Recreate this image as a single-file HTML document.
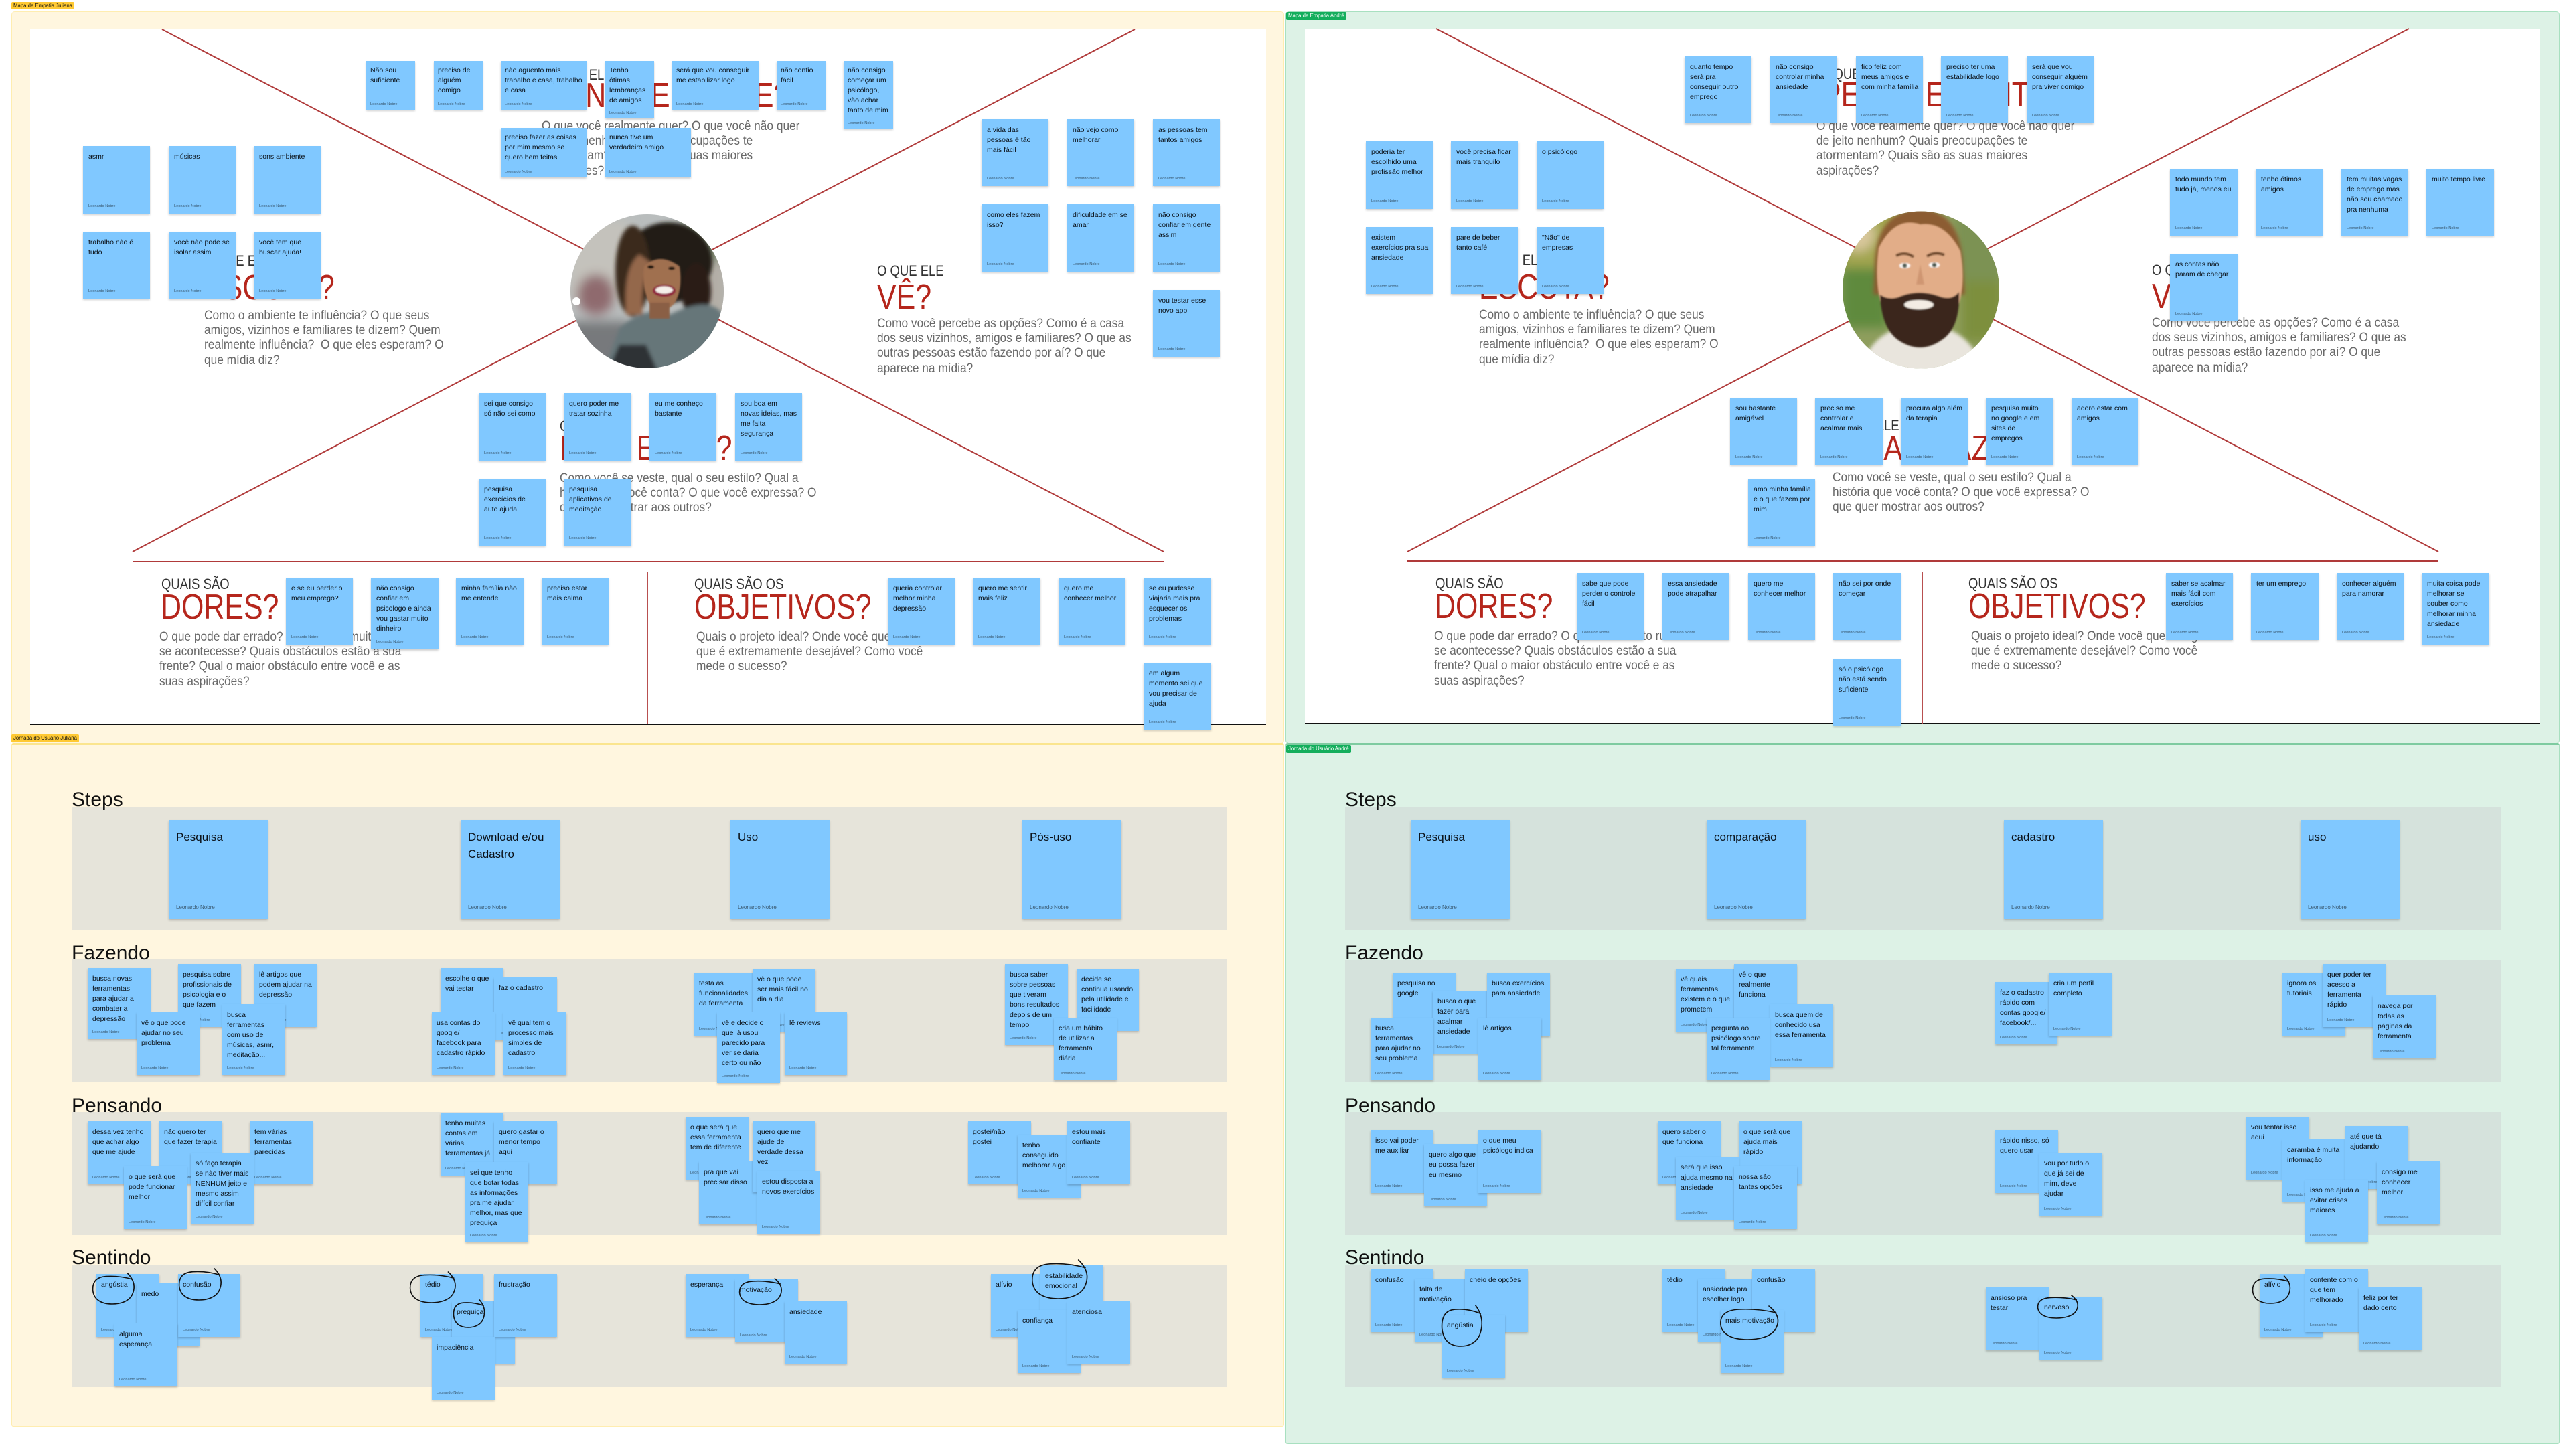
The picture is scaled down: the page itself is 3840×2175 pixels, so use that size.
<!DOCTYPE html>
<html lang="pt"><head><meta charset="utf-8"><title>Mapa de Empatia e Jornada do Usuário</title>
<style>
html,body{margin:0;padding:0;background:#fff}
body{position:relative;width:3840px;height:2175px;overflow:hidden;font-family:"Liberation Sans",sans-serif}
.f,.w,.l,.s,.h1,.h2,.b,.r,.t{position:absolute;box-sizing:border-box}
.w{background:#fff;border-bottom:2px solid #111}
.l{font-size:7.8px;line-height:11px;padding:0 3px;border-radius:2px;white-space:nowrap}
.h1,.h2,.b{transform-origin:0 0;white-space:nowrap}
.h1{font-size:22px;line-height:22px;color:#333;transform:scaleX(.84)}
.h2{font-size:52px;line-height:52px;color:#b5261c;transform:scaleX(.825)}
.b{font-size:19px;line-height:22.4px;color:#696969;transform:scaleX(.91);margin-top:1.5px}
.r{background:#e6e4da}
.g{background:#d5e2dc}
.t{font-size:30px;line-height:34px;color:#111;white-space:nowrap}
.s{background:#80c8ff;box-shadow:0 2px 3px rgba(0,0,0,.2);font-size:10.5px;line-height:15px;color:#0a1118;padding:9px 8px;white-space:nowrap}
.s i{position:absolute;left:8px;bottom:7px;font-style:normal;font-size:5.6px;line-height:8px;color:#3a5a72}
.n{padding:6.5px 6px}.n i{left:6px;bottom:4px}
.j{padding:9px 7px}.j i{left:7px;bottom:6px}
.k{font-size:17px;line-height:25px;padding:13px 11px}.k i{left:11px;bottom:13px;font-size:8px}
svg{position:absolute;left:0;top:0}
</style></head><body>

<div class="f" style="left:17px;top:17px;width:1901px;height:1094px;background:#fff6df;border:1px solid #ffedb0;border-radius:5px"></div>
<div class="f" style="left:1920px;top:17px;width:1903px;height:1094px;background:#ddf2e6;border:1px solid #a8e0c0;border-radius:5px"></div>
<div class="f" style="left:17px;top:1110px;width:1901px;height:1021px;background:#fff6df;border:1px solid #ffedb0;border-top:3px solid #fbe58e;border-radius:3px"></div>
<div class="f" style="left:1920px;top:1110px;width:1903px;height:1047px;background:#ddf2e6;border:1px solid #a8e0c0;border-top:3px solid #7ecba0;border-bottom:2px solid #a8e0c0;border-radius:3px"></div>

<div class="l" style="left:17px;top:3px;background:#ffc933;color:#111">Mapa de Empatia Juliana</div>
<div class="l" style="left:1921px;top:18px;background:#14ae5c;color:#fff;line-height:12px">Mapa de Empatia André</div>
<div class="l" style="left:17px;top:1097px;background:#ffc933;color:#111;line-height:12px">Jornada do Usuário Juliana</div>
<div class="l" style="left:1921px;top:1113px;background:#14ae5c;color:#fff;line-height:12px">Jornada do Usuário André</div>

<div class="w" style="left:45px;top:44px;width:1846px;height:1039px"></div>
<div class="w" style="left:1949px;top:43px;width:1845px;height:1039px"></div>

<svg width="3840" height="2175" viewBox="0 0 3840 2175">
<defs>
<clipPath id="cj"><ellipse cx="966.5" cy="435" rx="114.5" ry="115"/></clipPath>
<clipPath id="ca"><ellipse cx="2869" cy="433" rx="117" ry="117.5"/></clipPath>
<filter id="b8" x="-20%" y="-20%" width="140%" height="140%"><feGaussianBlur stdDeviation="8"/></filter>
<filter id="b3" x="-20%" y="-20%" width="140%" height="140%"><feGaussianBlur stdDeviation="3"/></filter>
<filter id="b1" x="-20%" y="-20%" width="140%" height="140%"><feGaussianBlur stdDeviation="1"/></filter>
</defs>
<g stroke="#b03a3a" stroke-width="2" fill="none">
<path d="M242 44L1738 824M1695 44L198 824M198 839H1738"/>
<path d="M967 855V1082" stroke="#b85050"/>
<path d="M2145 43L3642 824M3598 43L2102 824M2102 838H3642"/>
<path d="M2871 855V1081" stroke="#b85050"/>
</g>

<g clip-path="url(#cj)">
<rect x="850" y="318" width="234" height="234" fill="#b9bdbd"/>
<g filter="url(#b8)">
<rect x="850" y="330" width="90" height="120" fill="#c4c2bc"/>
<ellipse cx="890" cy="440" rx="28" ry="30" fill="#8f6a6e"/>
<rect x="850" y="480" width="90" height="70" fill="#77797c"/>
<rect x="1020" y="320" width="64" height="70" fill="#7f8d75"/>
<rect x="1050" y="390" width="34" height="90" fill="#b3aea6"/>
</g>
<g filter="url(#b3)">
<ellipse cx="998" cy="392" rx="66" ry="60" fill="#241a13"/>
<ellipse cx="945" cy="405" rx="26" ry="68" fill="#3a2a1e"/>
<ellipse cx="1040" cy="435" rx="22" ry="42" fill="#2a1d15"/>
<path d="M900 560L925 490Q965 455 1000 470Q1060 440 1080 470L1084 560Z" fill="#667679"/>
<path d="M905 560L925 515L965 515L985 560Z" fill="#2f3336"/>
<path d="M955 380Q930 400 935 470L960 470Q955 420 975 395Z" fill="#94684c"/>
</g>
<g filter="url(#b1)">
<path d="M962 398Q985 376 1015 398Q1020 432 1008 452Q990 474 970 454Q958 428 962 398Z" fill="#a0704f"/>
<rect x="970" y="452" width="30" height="24" fill="#8a5e44"/>
<ellipse cx="992" cy="434" rx="17" ry="9" fill="#8e1f3a"/>
<ellipse cx="992" cy="433" rx="13" ry="5.5" fill="#f5efe9"/>
<ellipse cx="972" cy="399" rx="5" ry="2.5" fill="#1c1410"/>
<ellipse cx="1003" cy="401" rx="5" ry="2.5" fill="#1c1410"/>
</g>
<circle cx="861" cy="450" r="6" fill="#fff"/>
</g>

<g clip-path="url(#ca)">
<rect x="2750" y="314" width="238" height="238" fill="#8f9e5e"/>
<g filter="url(#b8)">
<rect x="2750" y="314" width="90" height="120" fill="#a2a54f"/>
<rect x="2750" y="400" width="70" height="90" fill="#5f8a3e"/>
<rect x="2920" y="314" width="70" height="110" fill="#7c9252"/>
<rect x="2930" y="420" width="60" height="90" fill="#7d8f3c"/>
<ellipse cx="2775" cy="350" rx="26" ry="26" fill="#d8c79b"/>
</g>
<g filter="url(#b3)">
<path d="M2775 560Q2790 505 2835 490L2905 490Q2950 505 2965 560Z" fill="#e9e5dd"/>
<path d="M2800 400Q2800 315 2868 312Q2930 315 2932 400L2935 440L2798 440Z" fill="#8c5c30"/>
</g>
<g filter="url(#b1)">
<path d="M2806 370Q2830 322 2868 335Q2905 330 2928 375Q2938 430 2920 470Q2890 505 2866 508Q2840 505 2815 470Q2798 430 2806 370Z" fill="#e2ad88"/>
<path d="M2808 440Q2822 450 2840 442Q2866 432 2895 442Q2915 450 2926 436Q2928 490 2900 508Q2868 530 2835 508Q2810 490 2808 440Z" fill="#3a261c"/>
<ellipse cx="2866" cy="455" rx="22" ry="7" fill="#f3ece4"/>
<ellipse cx="2845" cy="397" rx="8" ry="4" fill="#fff"/>
<ellipse cx="2889" cy="396" rx="8" ry="4" fill="#fff"/>
<circle cx="2845" cy="397" r="3.5" fill="#4d5a50"/>
<circle cx="2889" cy="396" r="3.5" fill="#4d5a50"/>
<path d="M2832 382Q2846 375 2858 384M2878 383Q2890 375 2904 381" stroke="#6a4526" stroke-width="4" fill="none"/>
<path d="M2868 395L2862 425L2874 425Z" fill="#cf9672"/>
</g>
</g>
</svg>

<!-- Textos mapa Juliana -->
<div class="h1" style="left:305px;top:379px">O QUE ELE</div>
<div class="h2" style="left:305px;top:404px">ESCUTA?</div>
<div class="b" style="left:305px;top:459px">Como o ambiente te influência? O que seus<br>amigos, vizinhos e familiares te dizem? Quem<br>realmente influência?&nbsp; O que eles esperam? O<br>que mídia diz?</div>
<div class="h1" style="left:1310px;top:394px">O QUE ELE</div>
<div class="h2" style="left:1310px;top:418px">VÊ?</div>
<div class="b" style="left:1310px;top:471px">Como você percebe as opções? Como é a casa<br>dos seus vizinhos, amigos e familiares? O que as<br>outras pessoas estão fazendo por aí? O que<br>aparece na mídia?</div>
<div class="h1" style="left:815px;top:101px">O QUE ELE</div>
<div class="h2" style="left:817px;top:117px">PENSA E SENTE?</div>
<div class="b" style="left:809px;top:176px">O que você realmente quer? O que você não quer<br>de jeito nenhum? Quais preocupações te<br>atormentam? Quais são as suas maiores<br>aspirações?</div>
<div class="h1" style="left:836px;top:626px">O QUE ELE</div>
<div class="h2" style="left:836px;top:644px">FALA E FAZ?</div>
<div class="b" style="left:836px;top:702px">Como você se veste, qual o seu estilo? Qual a<br>história que você conta? O que você expressa? O<br>que quer mostrar aos outros?</div>
<div class="h1" style="left:241px;top:862px">QUAIS SÃO</div>
<div class="h2" style="left:240px;top:881px">DORES?</div>
<div class="b" style="left:238px;top:939px">O que pode dar errado? O que seria muito ruim<br>se acontecesse? Quais obstáculos estão a sua<br>frente? Qual o maior obstáculo entre você e as<br>suas aspirações?</div>
<div class="h1" style="left:1037px;top:862px">QUAIS SÃO OS</div>
<div class="h2" style="left:1037px;top:881px">OBJETIVOS?</div>
<div class="b" style="left:1040px;top:939px">Quais o projeto ideal? Onde você quer chegar? O<br>que é extremamente desejável? Como você<br>mede o sucesso?</div>

<!-- Textos mapa André -->
<div class="h1" style="left:2209px;top:378px">O QUE ELE</div>
<div class="h2" style="left:2209px;top:403px">ESCUTA?</div>
<div class="b" style="left:2209px;top:458px">Como o ambiente te influência? O que seus<br>amigos, vizinhos e familiares te dizem? Quem<br>realmente influência?&nbsp; O que eles esperam? O<br>que mídia diz?</div>
<div class="h1" style="left:3214px;top:393px">O QUE ELE</div>
<div class="h2" style="left:3214px;top:417px">VÊ?</div>
<div class="b" style="left:3214px;top:470px">Como você percebe as opções? Como é a casa<br>dos seus vizinhos, amigos e familiares? O que as<br>outras pessoas estão fazendo por aí? O que<br>aparece na mídia?</div>
<div class="h1" style="left:2719px;top:100px">O QUE ELE</div>
<div class="h2" style="left:2721px;top:116px">PENSA E SENTE?</div>
<div class="b" style="left:2713px;top:176px">O que você realmente quer? O que você não quer<br>de jeito nenhum? Quais preocupações te<br>atormentam? Quais são as suas maiores<br>aspirações?</div>
<div class="h1" style="left:2737px;top:625px">O QUE ELE</div>
<div class="h2" style="left:2737px;top:644px">FALA E FAZ?</div>
<div class="b" style="left:2737px;top:701px">Como você se veste, qual o seu estilo? Qual a<br>história que você conta? O que você expressa? O<br>que quer mostrar aos outros?</div>
<div class="h1" style="left:2144px;top:861px">QUAIS SÃO</div>
<div class="h2" style="left:2143px;top:880px">DORES?</div>
<div class="b" style="left:2142px;top:938px">O que pode dar errado? O que seria muito ruim<br>se acontecesse? Quais obstáculos estão a sua<br>frente? Qual o maior obstáculo entre você e as<br>suas aspirações?</div>
<div class="h1" style="left:2940px;top:861px">QUAIS SÃO OS</div>
<div class="h2" style="left:2940px;top:880px">OBJETIVOS?</div>
<div class="b" style="left:2944px;top:938px">Quais o projeto ideal? Onde você quer chegar? O<br>que é extremamente desejável? Como você<br>mede o sucesso?</div>

<!-- Notas mapa Juliana -->
<div class="s n" style="left:547px;top:91px;width:73px;height:73px">Não sou<br>suficiente<i>Leonardo Nobre</i></div>
<div class="s n" style="left:648px;top:91px;width:73px;height:73px">preciso de<br>alguém<br>comigo<i>Leonardo Nobre</i></div>
<div class="s n" style="left:748px;top:91px;width:128px;height:73px">não aguento mais<br>trabalho e casa, trabalho<br>e casa<i>Leonardo Nobre</i></div>
<div class="s n" style="left:904px;top:91px;width:73px;height:86px">Tenho<br>ótimas<br>lembranças<br>de amigos<i>Leonardo Nobre</i></div>
<div class="s n" style="left:748px;top:191px;width:128px;height:74px">preciso fazer as coisas<br>por mim mesmo se<br>quero bem feitas<i>Leonardo Nobre</i></div>
<div class="s n" style="left:904px;top:191px;width:128px;height:74px">nunca tive um<br>verdadeiro amigo<i>Leonardo Nobre</i></div>
<div class="s n" style="left:1004px;top:91px;width:129px;height:73px">será que vou conseguir<br>me estabilizar logo<i>Leonardo Nobre</i></div>
<div class="s n" style="left:1160px;top:91px;width:73px;height:73px">não confio<br>fácil<i>Leonardo Nobre</i></div>
<div class="s n" style="left:1260px;top:91px;width:74px;height:101px">não consigo<br>começar um<br>psicólogo,<br>vão achar<br>tanto de mim<i>Leonardo Nobre</i></div>

<div class="s" style="left:124px;top:218px;width:100px;height:101px">asmr<i>Leonardo Nobre</i></div>
<div class="s" style="left:252px;top:218px;width:100px;height:101px">músicas<i>Leonardo Nobre</i></div>
<div class="s" style="left:379px;top:218px;width:100px;height:101px">sons ambiente<i>Leonardo Nobre</i></div>
<div class="s" style="left:124px;top:346px;width:100px;height:100px">trabalho não é<br>tudo<i>Leonardo Nobre</i></div>
<div class="s" style="left:252px;top:346px;width:100px;height:100px">você não pode se<br>isolar assim<i>Leonardo Nobre</i></div>
<div class="s" style="left:379px;top:346px;width:100px;height:100px">você tem que<br>buscar ajuda!<i>Leonardo Nobre</i></div>

<div class="s" style="left:1466px;top:178px;width:100px;height:100px">a vida das<br>pessoas é tão<br>mais fácil<i>Leonardo Nobre</i></div>
<div class="s" style="left:1594px;top:178px;width:100px;height:100px">não vejo como<br>melhorar<i>Leonardo Nobre</i></div>
<div class="s" style="left:1722px;top:178px;width:100px;height:100px">as pessoas tem<br>tantos amigos<i>Leonardo Nobre</i></div>
<div class="s" style="left:1466px;top:305px;width:100px;height:101px">como eles fazem<br>isso?<i>Leonardo Nobre</i></div>
<div class="s" style="left:1594px;top:305px;width:100px;height:101px">dificuldade em se<br>amar<i>Leonardo Nobre</i></div>
<div class="s" style="left:1722px;top:305px;width:100px;height:101px">não consigo<br>confiar em gente<br>assim<i>Leonardo Nobre</i></div>
<div class="s" style="left:1722px;top:433px;width:100px;height:100px">vou testar esse<br>novo app<i>Leonardo Nobre</i></div>

<div class="s" style="left:715px;top:587px;width:100px;height:101px">sei que consigo<br>só não sei como<i>Leonardo Nobre</i></div>
<div class="s" style="left:842px;top:587px;width:101px;height:101px">quero poder me<br>tratar sozinha<i>Leonardo Nobre</i></div>
<div class="s" style="left:970px;top:587px;width:100px;height:101px">eu me conheço<br>bastante<i>Leonardo Nobre</i></div>
<div class="s" style="left:1098px;top:587px;width:100px;height:101px">sou boa em<br>novas ideias, mas<br>me falta<br>segurança<i>Leonardo Nobre</i></div>
<div class="s" style="left:715px;top:715px;width:100px;height:100px">pesquisa<br>exercícios de<br>auto ajuda<i>Leonardo Nobre</i></div>
<div class="s" style="left:842px;top:715px;width:101px;height:100px">pesquisa<br>aplicativos de<br>meditação<i>Leonardo Nobre</i></div>

<div class="s" style="left:427px;top:863px;width:100px;height:100px">e se eu perder o<br>meu emprego?<i>Leonardo Nobre</i></div>
<div class="s" style="left:554px;top:863px;width:101px;height:107px">não consigo<br>confiar em<br>psicologo e ainda<br>vou gastar muito<br>dinheiro<i>Leonardo Nobre</i></div>
<div class="s" style="left:681px;top:863px;width:101px;height:100px">minha família não<br>me entende<i>Leonardo Nobre</i></div>
<div class="s" style="left:809px;top:863px;width:100px;height:100px">preciso estar<br>mais calma<i>Leonardo Nobre</i></div>
<div class="s" style="left:1326px;top:863px;width:100px;height:100px">queria controlar<br>melhor minha<br>depressão<i>Leonardo Nobre</i></div>
<div class="s" style="left:1453px;top:863px;width:101px;height:100px">quero me sentir<br>mais feliz<i>Leonardo Nobre</i></div>
<div class="s" style="left:1581px;top:863px;width:100px;height:100px">quero me<br>conhecer melhor<i>Leonardo Nobre</i></div>
<div class="s" style="left:1708px;top:863px;width:101px;height:100px">se eu pudesse<br>viajaria mais pra<br>esquecer os<br>problemas<i>Leonardo Nobre</i></div>
<div class="s" style="left:1708px;top:990px;width:101px;height:100px">em algum<br>momento sei que<br>vou precisar de<br>ajuda<i>Leonardo Nobre</i></div>

<!-- Notas mapa André -->
<div class="s" style="left:2516px;top:84px;width:100px;height:100px">quanto tempo<br>será pra<br>conseguir outro<br>emprego<i>Leonardo Nobre</i></div>
<div class="s" style="left:2644px;top:84px;width:100px;height:100px">não consigo<br>controlar minha<br>ansiedade<i>Leonardo Nobre</i></div>
<div class="s" style="left:2772px;top:84px;width:100px;height:100px">fico feliz com<br>meus amigos e<br>com minha família<i>Leonardo Nobre</i></div>
<div class="s" style="left:2899px;top:84px;width:100px;height:100px">preciso ter uma<br>estabilidade logo<i>Leonardo Nobre</i></div>
<div class="s" style="left:3027px;top:84px;width:100px;height:100px">será que vou<br>conseguir alguém<br>pra viver comigo<i>Leonardo Nobre</i></div>
<div class="s" style="left:2040px;top:211px;width:100px;height:101px">poderia ter<br>escolhido uma<br>profissão melhor<i>Leonardo Nobre</i></div>
<div class="s" style="left:2167px;top:211px;width:101px;height:101px">você precisa ficar<br>mais tranquilo<i>Leonardo Nobre</i></div>
<div class="s" style="left:2295px;top:211px;width:100px;height:101px">o psicólogo<i>Leonardo Nobre</i></div>
<div class="s" style="left:2040px;top:339px;width:100px;height:100px">existem<br>exercícios pra sua<br>ansiedade<i>Leonardo Nobre</i></div>
<div class="s" style="left:2167px;top:339px;width:101px;height:100px">pare de beber<br>tanto café<i>Leonardo Nobre</i></div>
<div class="s" style="left:2295px;top:339px;width:100px;height:100px">"Não" de<br>empresas<i>Leonardo Nobre</i></div>
<div class="s" style="left:3241px;top:252px;width:101px;height:100px">todo mundo tem<br>tudo já, menos eu<i>Leonardo Nobre</i></div>
<div class="s" style="left:3369px;top:252px;width:100px;height:100px">tenho ótimos<br>amigos<i>Leonardo Nobre</i></div>
<div class="s" style="left:3497px;top:252px;width:100px;height:100px">tem muitas vagas<br>de emprego mas<br>não sou chamado<br>pra nenhuma<i>Leonardo Nobre</i></div>
<div class="s" style="left:3624px;top:252px;width:101px;height:100px">muito tempo livre<i>Leonardo Nobre</i></div>
<div class="s" style="left:3241px;top:379px;width:101px;height:101px">as contas não<br>param de chegar<i>Leonardo Nobre</i></div>
<div class="s" style="left:2584px;top:594px;width:100px;height:100px">sou bastante<br>amigável<i>Leonardo Nobre</i></div>
<div class="s" style="left:2711px;top:594px;width:101px;height:100px">preciso me<br>controlar e<br>acalmar mais<i>Leonardo Nobre</i></div>
<div class="s" style="left:2839px;top:594px;width:100px;height:100px">procura algo além<br>da terapia<i>Leonardo Nobre</i></div>
<div class="s" style="left:2966px;top:594px;width:101px;height:100px">pesquisa muito<br>no google e em<br>sites de<br>empregos<i>Leonardo Nobre</i></div>
<div class="s" style="left:3094px;top:594px;width:100px;height:100px">adoro estar com<br>amigos<i>Leonardo Nobre</i></div>
<div class="s" style="left:2611px;top:715px;width:100px;height:100px">amo minha família<br>e o que fazem por<br>mim<i>Leonardo Nobre</i></div>
<div class="s" style="left:2355px;top:856px;width:100px;height:100px">sabe que pode<br>perder o controle<br>fácil<i>Leonardo Nobre</i></div>
<div class="s" style="left:2483px;top:856px;width:100px;height:100px">essa ansiedade<br>pode atrapalhar<i>Leonardo Nobre</i></div>
<div class="s" style="left:2611px;top:856px;width:100px;height:100px">quero me<br>conhecer melhor<i>Leonardo Nobre</i></div>
<div class="s" style="left:2738px;top:856px;width:101px;height:100px">não sei por onde<br>começar<i>Leonardo Nobre</i></div>
<div class="s" style="left:2738px;top:984px;width:101px;height:100px">só o psicólogo<br>não está sendo<br>suficiente<i>Leonardo Nobre</i></div>
<div class="s" style="left:3235px;top:856px;width:100px;height:100px">saber se acalmar<br>mais fácil com<br>exercícios<i>Leonardo Nobre</i></div>
<div class="s" style="left:3362px;top:856px;width:101px;height:100px">ter um emprego<i>Leonardo Nobre</i></div>
<div class="s" style="left:3490px;top:856px;width:100px;height:100px">conhecer alguém<br>para namorar<i>Leonardo Nobre</i></div>
<div class="s" style="left:3617px;top:856px;width:101px;height:107px">muita coisa pode<br>melhorar se<br>souber como<br>melhorar minha<br>ansiedade<i>Leonardo Nobre</i></div>

<!-- Jornada Juliana -->
<div class="r" style="left:107px;top:1206px;width:1725px;height:183px"></div>
<div class="r" style="left:107px;top:1433px;width:1725px;height:184px"></div>
<div class="r" style="left:107px;top:1661px;width:1725px;height:184px"></div>
<div class="r" style="left:107px;top:1889px;width:1725px;height:183px"></div>
<div class="t" style="left:107px;top:1178px">Steps</div>
<div class="t" style="left:107px;top:1407px">Fazendo</div>
<div class="t" style="left:107px;top:1635px">Pensando</div>
<div class="t" style="left:107px;top:1862px">Sentindo</div>

<div class="s k" style="left:252px;top:1225px;width:148px;height:148px">Pesquisa<i>Leonardo Nobre</i></div>
<div class="s k" style="left:688px;top:1225px;width:148px;height:148px">Download e/ou<br>Cadastro<i>Leonardo Nobre</i></div>
<div class="s k" style="left:1091px;top:1225px;width:148px;height:148px">Uso<i>Leonardo Nobre</i></div>
<div class="s k" style="left:1527px;top:1225px;width:148px;height:148px">Pós-uso<i>Leonardo Nobre</i></div>

<div class="s j" style="left:131px;top:1446px;width:94px;height:106px">busca novas<br>ferramentas<br>para ajudar a<br>combater a<br>depressão<i>Leonardo Nobre</i></div>
<div class="s j" style="left:266px;top:1440px;width:94px;height:94px">pesquisa sobre<br>profissionais de<br>psicologia e o<br>que fazem<i>Leonardo Nobre</i></div>
<div class="s j" style="left:380px;top:1440px;width:93px;height:94px">lê artigos que<br>podem ajudar na<br>depressão<i>Leonardo Nobre</i></div>
<div class="s j" style="left:204px;top:1512px;width:94px;height:94px">vê o que pode<br>ajudar no seu<br>problema<i>Leonardo Nobre</i></div>
<div class="s j" style="left:332px;top:1500px;width:94px;height:106px">busca<br>ferramentas<br>com uso de<br>músicas, asmr,<br>meditação...<i>Leonardo Nobre</i></div>
<div class="s j" style="left:658px;top:1446px;width:94px;height:94px">escolhe o que<br>vai testar<i>Leonardo Nobre</i></div>
<div class="s j" style="left:738px;top:1460px;width:94px;height:94px">faz o cadastro<i>Leonardo Nobre</i></div>
<div class="s j" style="left:645px;top:1512px;width:94px;height:94px">usa contas do<br>google/<br>facebook para<br>cadastro rápido<i>Leonardo Nobre</i></div>
<div class="s j" style="left:752px;top:1512px;width:94px;height:94px">vê qual tem o<br>processo mais<br>simples de<br>cadastro<i>Leonardo Nobre</i></div>
<div class="s j" style="left:1037px;top:1453px;width:94px;height:94px">testa as<br>funcionalidades<br>da ferramenta<i>Leonardo Nobre</i></div>
<div class="s j" style="left:1124px;top:1447px;width:94px;height:94px">vê o que pode<br>ser mais fácil no<br>dia a dia<i>Leonardo Nobre</i></div>
<div class="s j" style="left:1071px;top:1512px;width:94px;height:106px">vê e decide o<br>que já usou<br>parecido para<br>ver se daria<br>certo ou não<i>Leonardo Nobre</i></div>
<div class="s j" style="left:1172px;top:1512px;width:93px;height:94px">lê reviews<i>Leonardo Nobre</i></div>
<div class="s j" style="left:1501px;top:1440px;width:94px;height:121px">busca saber<br>sobre pessoas<br>que tiveram<br>bons resultados<br>depois de um<br>tempo<i>Leonardo Nobre</i></div>
<div class="s j" style="left:1608px;top:1447px;width:93px;height:93px">decide se<br>continua usando<br>pela utilidade e<br>facilidade<i>Leonardo Nobre</i></div>
<div class="s j" style="left:1574px;top:1520px;width:94px;height:94px">cria um hábito<br>de utilizar a<br>ferramenta<br>diária<i>Leonardo Nobre</i></div>

<div class="s j" style="left:131px;top:1675px;width:94px;height:94px">dessa vez tenho<br>que achar algo<br>que me ajude<i>Leonardo Nobre</i></div>
<div class="s j" style="left:238px;top:1675px;width:94px;height:94px">não quero ter<br>que fazer terapia<i>Leonardo Nobre</i></div>
<div class="s j" style="left:373px;top:1675px;width:94px;height:94px">tem várias<br>ferramentas<br>parecidas<i>Leonardo Nobre</i></div>
<div class="s j" style="left:185px;top:1742px;width:94px;height:94px">o que será que<br>pode funcionar<br>melhor<i>Leonardo Nobre</i></div>
<div class="s j" style="left:285px;top:1722px;width:94px;height:106px">só faço terapia<br>se não tiver mais<br>NENHUM jeito e<br>mesmo assim<br>difícil confiar<i>Leonardo Nobre</i></div>
<div class="s j" style="left:658px;top:1662px;width:94px;height:94px">tenho muitas<br>contas em<br>várias<br>ferramentas já<i>Leonardo Nobre</i></div>
<div class="s j" style="left:738px;top:1675px;width:94px;height:94px">quero gastar o<br>menor tempo<br>aqui<i>Leonardo Nobre</i></div>
<div class="s j" style="left:695px;top:1736px;width:94px;height:120px">sei que tenho<br>que botar todas<br>as informações<br>pra me ajudar<br>melhor, mas que<br>preguiça<i>Leonardo Nobre</i></div>
<div class="s j" style="left:1024px;top:1668px;width:94px;height:94px">o que será que<br>essa ferramenta<br>tem de diferente<i>Leonardo Nobre</i></div>
<div class="s j" style="left:1044px;top:1735px;width:94px;height:94px">pra que vai<br>precisar disso<i>Leonardo Nobre</i></div>
<div class="s j" style="left:1124px;top:1675px;width:94px;height:106px">quero que me<br>ajude de<br>verdade dessa<br>vez<i>Leonardo Nobre</i></div>
<div class="s j" style="left:1131px;top:1749px;width:94px;height:94px">estou disposta a<br>novos exercícios<i>Leonardo Nobre</i></div>
<div class="s j" style="left:1446px;top:1675px;width:94px;height:94px">gostei/não<br>gostei<i>Leonardo Nobre</i></div>
<div class="s j" style="left:1520px;top:1695px;width:94px;height:94px">tenho<br>conseguido<br>melhorar algo<i>Leonardo Nobre</i></div>
<div class="s j" style="left:1594px;top:1675px;width:94px;height:94px">estou mais<br>confiante<i>Leonardo Nobre</i></div>

<div class="s j" style="left:144px;top:1903px;width:94px;height:94px">angústia<i>Leonardo Nobre</i></div>
<div class="s j" style="left:204px;top:1917px;width:94px;height:94px">medo<i>Leonardo Nobre</i></div>
<div class="s j" style="left:266px;top:1903px;width:93px;height:94px">confusão<i>Leonardo Nobre</i></div>
<div class="s j" style="left:171px;top:1977px;width:94px;height:94px">alguma<br>esperança<i>Leonardo Nobre</i></div>
<div class="s j" style="left:628px;top:1903px;width:94px;height:94px">tédio<i>Leonardo Nobre</i></div>
<div class="s j" style="left:675px;top:1944px;width:94px;height:93px">preguiça<i>Leonardo Nobre</i></div>
<div class="s j" style="left:738px;top:1903px;width:94px;height:94px">frustração<i>Leonardo Nobre</i></div>
<div class="s j" style="left:645px;top:1997px;width:94px;height:94px">impaciência<i>Leonardo Nobre</i></div>
<div class="s j" style="left:1024px;top:1903px;width:94px;height:94px">esperança<i>Leonardo Nobre</i></div>
<div class="s j" style="left:1098px;top:1911px;width:94px;height:94px">motivação<i>Leonardo Nobre</i></div>
<div class="s j" style="left:1172px;top:1944px;width:93px;height:93px">ansiedade<i>Leonardo Nobre</i></div>
<div class="s j" style="left:1480px;top:1903px;width:94px;height:94px">alívio<i>Leonardo Nobre</i></div>
<div class="s j" style="left:1554px;top:1890px;width:94px;height:94px">estabilidade<br>emocional<i>Leonardo Nobre</i></div>
<div class="s j" style="left:1520px;top:1957px;width:94px;height:94px">confiança<i>Leonardo Nobre</i></div>
<div class="s j" style="left:1594px;top:1944px;width:94px;height:93px">atenciosa<i>Leonardo Nobre</i></div>

<!-- Jornada André -->
<div class="r g" style="left:2009px;top:1206px;width:1726px;height:183px"></div>
<div class="r g" style="left:2009px;top:1434px;width:1726px;height:183px"></div>
<div class="r g" style="left:2009px;top:1661px;width:1726px;height:184px"></div>
<div class="r g" style="left:2009px;top:1889px;width:1726px;height:183px"></div>
<div class="t" style="left:2009px;top:1178px">Steps</div>
<div class="t" style="left:2009px;top:1407px">Fazendo</div>
<div class="t" style="left:2009px;top:1635px">Pensando</div>
<div class="t" style="left:2009px;top:1862px">Sentindo</div>

<div class="s k" style="left:2107px;top:1225px;width:148px;height:148px">Pesquisa<i>Leonardo Nobre</i></div>
<div class="s k" style="left:2549px;top:1225px;width:148px;height:148px">comparação<i>Leonardo Nobre</i></div>
<div class="s k" style="left:2993px;top:1225px;width:148px;height:148px">cadastro<i>Leonardo Nobre</i></div>
<div class="s k" style="left:3436px;top:1225px;width:148px;height:148px">uso<i>Leonardo Nobre</i></div>

<div class="s j" style="left:2080px;top:1453px;width:94px;height:95px">pesquisa no<br>google<i>Leonardo Nobre</i></div>
<div class="s j" style="left:2140px;top:1480px;width:94px;height:94px">busca o que<br>fazer para<br>acalmar<br>ansiedade<i>Leonardo Nobre</i></div>
<div class="s j" style="left:2221px;top:1453px;width:94px;height:95px">busca exercícios<br>para ansiedade<i>Leonardo Nobre</i></div>
<div class="s j" style="left:2047px;top:1520px;width:94px;height:94px">busca<br>ferramentas<br>para ajudar no<br>seu problema<i>Leonardo Nobre</i></div>
<div class="s j" style="left:2208px;top:1520px;width:94px;height:94px">lê artigos<i>Leonardo Nobre</i></div>
<div class="s j" style="left:2503px;top:1447px;width:94px;height:94px">vê quais<br>ferramentas<br>existem e o que<br>prometem<i>Leonardo Nobre</i></div>
<div class="s j" style="left:2590px;top:1440px;width:94px;height:94px">vê o que<br>realmente<br>funciona<i>Leonardo Nobre</i></div>
<div class="s j" style="left:2644px;top:1500px;width:94px;height:94px">busca quem de<br>conhecido usa<br>essa ferramenta<i>Leonardo Nobre</i></div>
<div class="s j" style="left:2549px;top:1520px;width:94px;height:94px">pergunta ao<br>psicólogo sobre<br>tal ferramenta<i>Leonardo Nobre</i></div>
<div class="s j" style="left:2980px;top:1467px;width:93px;height:93px">faz o cadastro<br>rápido com<br>contas google/<br>facebook/...<i>Leonardo Nobre</i></div>
<div class="s j" style="left:3060px;top:1453px;width:94px;height:94px">cria um perfil<br>completo<i>Leonardo Nobre</i></div>
<div class="s j" style="left:3409px;top:1453px;width:94px;height:94px">ignora os<br>tutoriais<i>Leonardo Nobre</i></div>
<div class="s j" style="left:3469px;top:1440px;width:94px;height:94px">quer poder ter<br>acesso a<br>ferramenta<br>rápido<i>Leonardo Nobre</i></div>
<div class="s j" style="left:3544px;top:1487px;width:94px;height:94px">navega por<br>todas as<br>páginas da<br>ferramenta<i>Leonardo Nobre</i></div>

<div class="s j" style="left:2047px;top:1688px;width:94px;height:94px">isso vai poder<br>me auxiliar<i>Leonardo Nobre</i></div>
<div class="s j" style="left:2127px;top:1709px;width:94px;height:93px">quero algo que<br>eu possa fazer<br>eu mesmo<i>Leonardo Nobre</i></div>
<div class="s j" style="left:2208px;top:1688px;width:94px;height:94px">o que meu<br>psicólogo indica<i>Leonardo Nobre</i></div>
<div class="s j" style="left:2476px;top:1675px;width:94px;height:94px">quero saber o<br>que funciona<i>Leonardo Nobre</i></div>
<div class="s j" style="left:2597px;top:1675px;width:94px;height:94px">o que será que<br>ajuda mais<br>rápido<i>Leonardo Nobre</i></div>
<div class="s j" style="left:2503px;top:1728px;width:94px;height:94px">será que isso<br>ajuda mesmo na<br>ansiedade<i>Leonardo Nobre</i></div>
<div class="s j" style="left:2590px;top:1742px;width:94px;height:94px">nossa são<br>tantas opções<i>Leonardo Nobre</i></div>
<div class="s j" style="left:2980px;top:1688px;width:94px;height:94px">rápido nisso, só<br>quero usar<i>Leonardo Nobre</i></div>
<div class="s j" style="left:3046px;top:1722px;width:94px;height:94px">vou por tudo o<br>que já sei de<br>mim, deve<br>ajudar<i>Leonardo Nobre</i></div>
<div class="s j" style="left:3355px;top:1668px;width:94px;height:94px">vou tentar isso<br>aqui<i>Leonardo Nobre</i></div>
<div class="s j" style="left:3409px;top:1702px;width:94px;height:93px">caramba é muita<br>informação<i>Leonardo Nobre</i></div>
<div class="s j" style="left:3503px;top:1682px;width:94px;height:94px">até que tá<br>ajudando<i>Leonardo Nobre</i></div>
<div class="s j" style="left:3550px;top:1735px;width:94px;height:94px">consigo me<br>conhecer<br>melhor<i>Leonardo Nobre</i></div>
<div class="s j" style="left:3443px;top:1762px;width:94px;height:94px">isso me ajuda a<br>evitar crises<br>maiores<i>Leonardo Nobre</i></div>

<div class="s j" style="left:2047px;top:1896px;width:94px;height:94px">confusão<i>Leonardo Nobre</i></div>
<div class="s j" style="left:2113px;top:1910px;width:94px;height:94px">falta de<br>motivação<i>Leonardo Nobre</i></div>
<div class="s j" style="left:2188px;top:1896px;width:94px;height:94px">cheio de opções<i>Leonardo Nobre</i></div>
<div class="s j" style="left:2154px;top:1964px;width:94px;height:94px">angústia<i>Leonardo Nobre</i></div>
<div class="s j" style="left:2483px;top:1896px;width:94px;height:94px">tédio<i>Leonardo Nobre</i></div>
<div class="s j" style="left:2536px;top:1910px;width:94px;height:94px">ansiedade pra<br>escolher logo<i>Leonardo Nobre</i></div>
<div class="s j" style="left:2617px;top:1896px;width:94px;height:94px">confusão<i>Leonardo Nobre</i></div>
<div class="s j" style="left:2570px;top:1957px;width:94px;height:94px">mais motivação<i>Leonardo Nobre</i></div>
<div class="s j" style="left:2966px;top:1923px;width:94px;height:94px">ansioso pra<br>testar<i>Leonardo Nobre</i></div>
<div class="s j" style="left:3046px;top:1937px;width:94px;height:94px">nervoso<i>Leonardo Nobre</i></div>
<div class="s j" style="left:3375px;top:1903px;width:94px;height:94px">alívio<i>Leonardo Nobre</i></div>
<div class="s j" style="left:3443px;top:1896px;width:94px;height:94px">contente com o<br>que tem<br>melhorado<i>Leonardo Nobre</i></div>
<div class="s j" style="left:3523px;top:1923px;width:94px;height:94px">feliz por ter<br>dado certo<i>Leonardo Nobre</i></div>

<!-- Círculos à mão -->
<svg width="3840" height="2175" viewBox="0 0 3840 2175">
<defs><path id="o" d="M82 0C100 25 100 50 92 72C84 92 65 100 46 100C20 100 3 85 1 55C0 30 8 12 32 10C55 8 75 12 94 20" fill="none" stroke="#111" stroke-width="1.6" stroke-linecap="round" vector-effect="non-scaling-stroke"/></defs>
<use href="#o" transform="translate(138 1902) scale(.64 .46)"/>
<use href="#o" transform="translate(267 1895) scale(.65 .47)"/>
<use href="#o" transform="translate(612 1900) scale(.7 .46)"/>
<use href="#o" transform="translate(677 1942) scale(.48 .41)"/>
<use href="#o" transform="translate(1104 1910) scale(.65 .39)"/>
<use href="#o" transform="translate(1541 1882) scale(.85 .58)"/>
<use href="#o" transform="translate(2153 1950) scale(.62 .61)"/>
<use href="#o" transform="translate(2569 1951) scale(.89 .5)"/>
<use href="#o" transform="translate(3043 1935) scale(.62 .34)"/>
<use href="#o" transform="translate(3364 1906) scale(.58 .41)"/>
</svg>
</body></html>
